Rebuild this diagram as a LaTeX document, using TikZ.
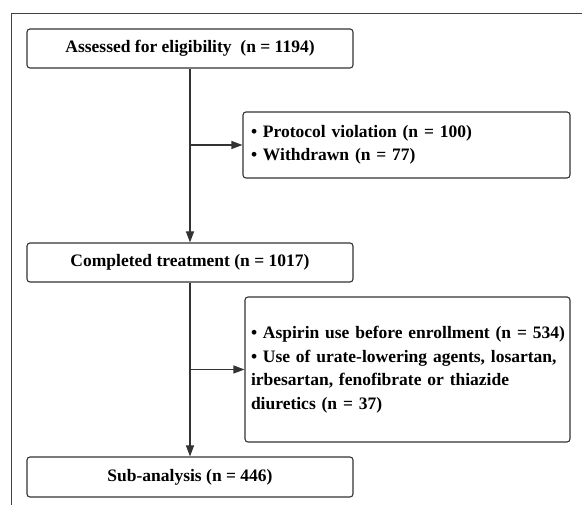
\documentclass[tikz,border=0pt]{standalone}
\usepackage{fontspec}
\setmainfont{Liberation Serif}
\usetikzlibrary{arrows.meta}
\tikzset{
	flowbox/.style={draw=black!80, line width=1.1pt, rounded corners=3pt, inner sep=0pt,
		font=\fontsize{17.5}{23.5}\selectfont\bfseries},
	mainbox/.style={flowbox, minimum width=326pt, minimum height=39pt},
	sidebox/.style={flowbox, align=left, inner xsep=6pt, text width=313pt},
	flowline/.style={draw=black!80, line width=1.1pt},
	flowarrow/.style={flowline, -{Triangle[length=11pt,width=8pt]}}
}

\begin{document}
\begin{tikzpicture}[x=1pt,y=1pt]
				\useasboundingbox (0,0) rectangle (582,505);
				\draw[black!75, line width=0.9pt] (11,0) -- (11,492) -- (582,492);
				
				\node[mainbox] (assessed) at (190,456.5) {Assessed for eligibility\ \ (n = 1194)};
				\node[mainbox] (completed) at (190,242.5) {Completed treatment (n = 1017)};
				\node[mainbox, minimum height=40pt] (subanalysis) at (190,28) {Sub-analysis (n = 446)};
				
				\node[sidebox, inner xsep=8pt, text width=311pt, minimum height=66pt] (excluded) at (406.5,360)
					{\textbullet\ Protocol violation (n = 100)\\ \textbullet\ Withdrawn (n = 77)};
				\node[sidebox, minimum height=145pt] (medication) at (407.5,135.5)
					{\mbox{\textbullet\ Aspirin use before enrollment (n = 534)}\\
					\textbullet\ Use of urate-lowering agents, losartan,\\
					irbesartan, fenofibrate or thiazide\\
					diuretics (n = 37)};
				
				\draw[flowarrow] (assessed) -- (completed);
				\draw[flowarrow] (completed) -- (subanalysis);
				\draw[flowarrow] (assessed.south |- excluded.west) -- (excluded.west);
				\draw[flowarrow] (completed.south |- medication.west) -- (medication.west);
\end{tikzpicture}
\end{document}
